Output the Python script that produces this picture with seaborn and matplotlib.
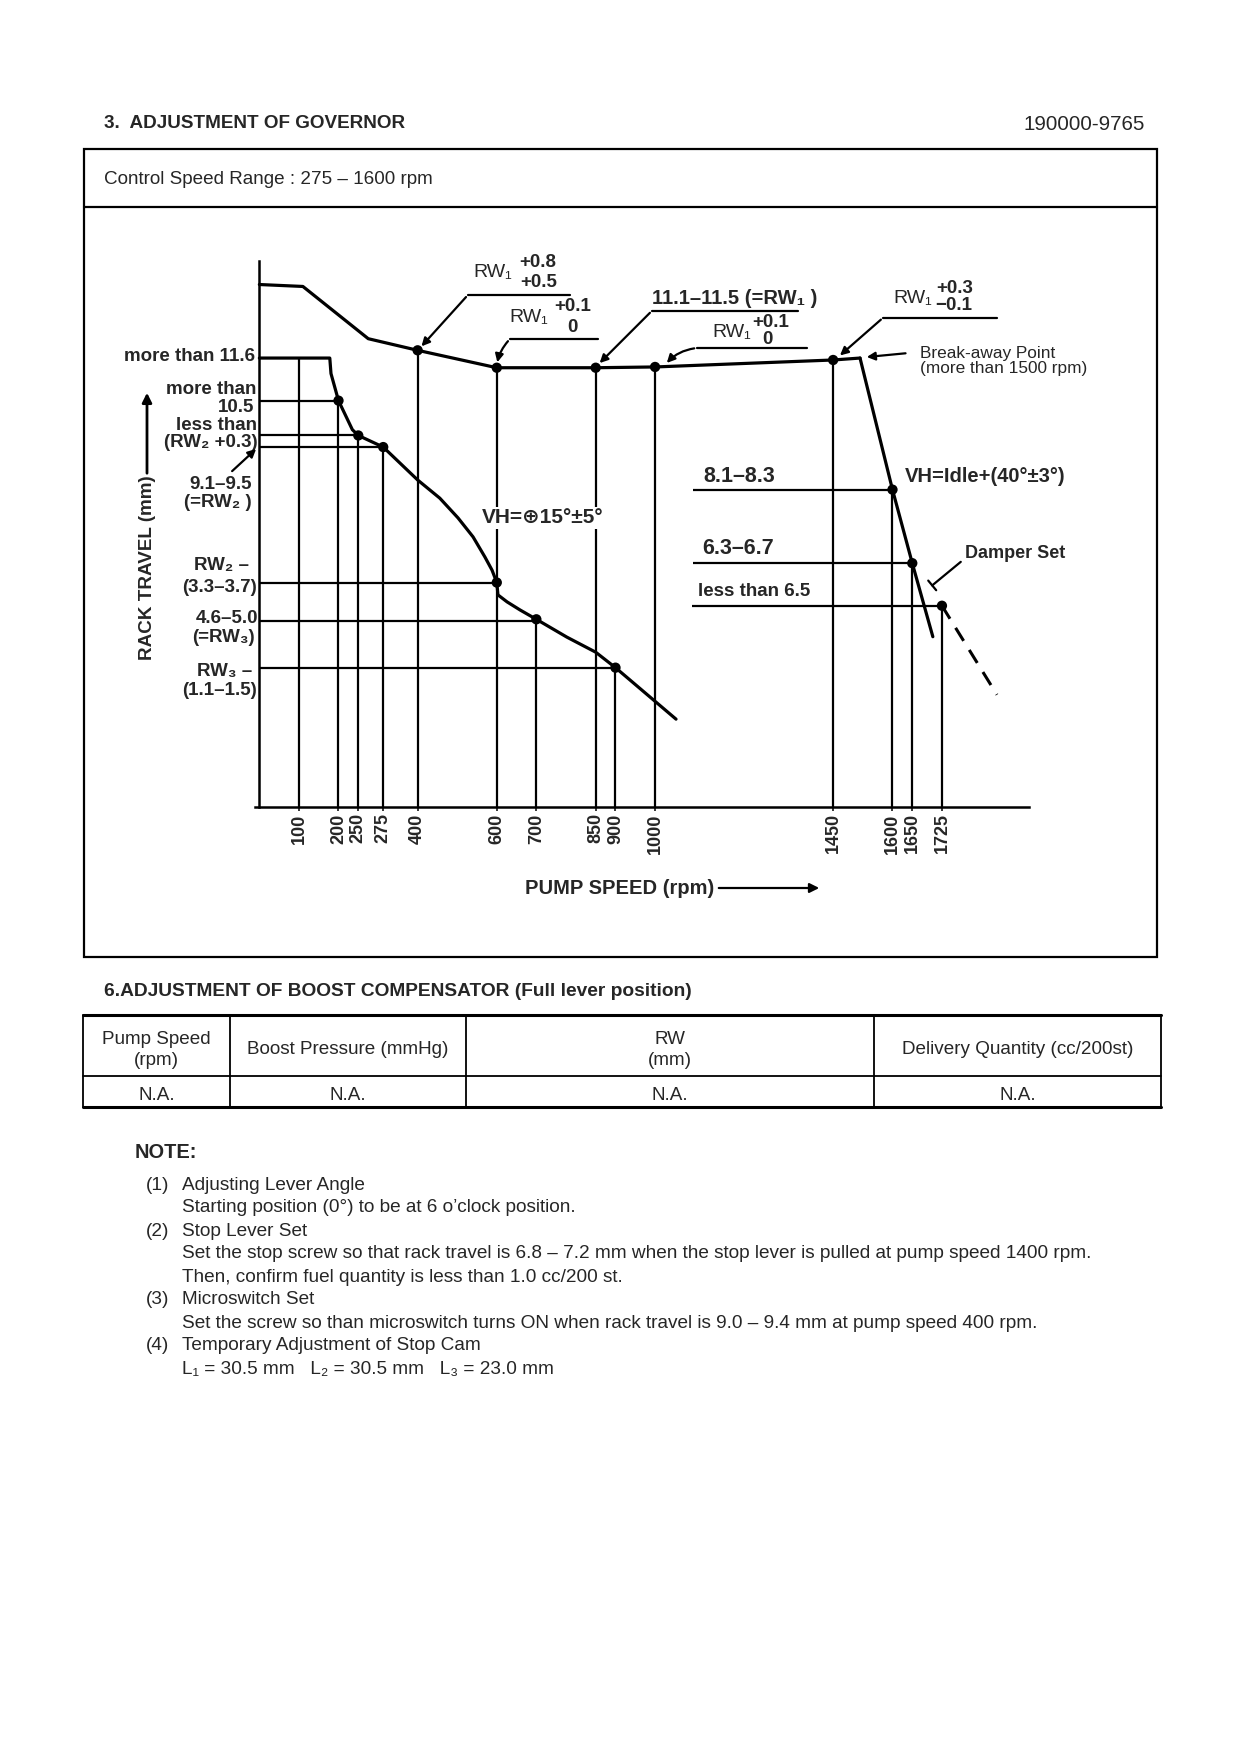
import numpy as np
import pandas as pd
import seaborn as sns
import matplotlib.pyplot as plt
from matplotlib.patches import Rectangle

# governor curve, pump speed (rpm) vs rack travel (mm)
full_speed = [0, 178, 181, 200, 235, 250, 275, 400, 456, 502, 540, 570, 588, 600, 603, 626, 659, 700,
              777, 850, 900, 1053]
full_rack = [11.6, 11.6, 11.2, 10.5, 9.75, 9.6, 9.3, 8.45, 7.98, 7.47, 6.98, 6.46, 6.12, 5.8, 5.48, 5.3,
             5.09, 4.85, 4.39, 4.0, 3.6, 2.27]

upper_speed = [0, 110, 260, 400, 600, 850, 1000, 1450, 1518]
upper_rack = [13.5, 13.45, 12.1, 11.8, 11.35, 11.35, 11.37, 11.55, 11.6]

drop_speed = [1518, 1600, 1650, 1702]
drop_rack = [11.6, 8.2, 6.3, 4.4]

idle_speed = [1725, 1864]
idle_rack = [5.2, 2.9]

dot_speed = [200, 250, 275, 400, 600, 600, 700, 850, 900, 1000, 1450, 1600, 1650, 1725]
dot_rack = [10.5, 9.6, 9.3, 11.8, 11.35, 5.8, 4.85, 11.35, 3.6, 11.37, 11.55, 8.2, 6.3, 5.2]

tick_speed = [100, 200, 250, 275, 400, 600, 700, 850, 900, 1000, 1450, 1600, 1650, 1725]
tick_top = [11.6, 10.5, 9.6, 9.3, 11.8, 11.35, 4.85, 11.35, 3.6, 11.37, 11.55, 8.2, 6.3, 5.2]

left_level = [10.5, 9.6, 9.3, 5.8, 4.8, 3.6]
left_end = [200, 250, 275, 600, 700, 900]

right_level = [8.2, 6.3, 5.2]
right_start = [1095, 1095, 1093]
right_end = [1600, 1650, 1725]

table_header = ["Pump Speed\n(rpm)", "Boost Pressure (mmHg)", "RW\n(mm)", "Delivery Quantity (cc/200st)"]
table_values = ["N.A.", "N.A.", "N.A.", "N.A."]

notes = [
    ("(1)", "Adjusting Lever Angle"),
    ("", "Starting position (0°) to be at 6 o’clock position."),
    ("(2)", "Stop Lever Set"),
    ("", "Set the stop screw so that rack travel is 6.8 – 7.2 mm when the stop lever is pulled at pump speed 1400 rpm."),
    ("", "Then, confirm fuel quantity is less than 1.0 cc/200 st."),
    ("(3)", "Microswitch Set"),
    ("", "Set the screw so than microswitch turns ON when rack travel is 9.0 – 9.4 mm at pump speed 400 rpm."),
    ("(4)", "Temporary Adjustment of Stop Cam"),
    ("", "L₁ = 30.5 mm   L₂ = 30.5 mm   L₃ = 23.0 mm"),
]

sns.set_style("white")
plt.rcParams['font.family'] = ['Liberation Sans', 'DejaVu Sans']

fig = plt.figure(figsize=(12.4, 17.54), dpi=100)

# page layer in pixel units for frames, headings, table and notes
page = fig.add_axes([0, 0, 1, 1])
page.set_xlim(0, 1240)
page.set_ylim(1754, 0)
page.axis('off')

page.text(104, 124, "3.  ADJUSTMENT OF GOVERNOR", fontsize=13.6, fontweight='bold', va='center')
page.text(1145, 124, "190000-9765", fontsize=14.8, ha='right', va='center')
page.add_patch(Rectangle((84, 149), 1073, 808, fill=False, lw=1.6, color='black'))
page.plot([84, 1157], [207, 207], color='black', lw=1.6)
page.text(104, 179, "Control Speed Range : 275 – 1600 rpm", fontsize=13.6, va='center')

# chart axes
ax = fig.add_axes([255.4 / 1240, 1 - 807 / 1754, 773.6 / 1240, 545.7 / 1754])
ax.patch.set_alpha(0)

lw_curve = 2.3
sns.lineplot(x=full_speed, y=full_rack, sort=False, estimator=None, color='black', lw=lw_curve, ax=ax)
sns.lineplot(x=upper_speed, y=upper_rack, sort=False, estimator=None, color='black', lw=lw_curve, ax=ax)
sns.lineplot(x=drop_speed, y=drop_rack, sort=False, estimator=None, color='black', lw=lw_curve, ax=ax)
ax.plot(idle_speed, idle_rack, color='black', lw=2.2, linestyle=(0, (5, 3.5)))
sns.scatterplot(x=dot_speed, y=dot_rack, color='black', s=55, edgecolor='none', zorder=5, ax=ax)

ax.vlines(tick_speed, 0, tick_top, color='black', lw=1.6)
ax.hlines(left_level, 0, left_end, color='black', lw=1.6)
ax.hlines(right_level, right_start, right_end, color='black', lw=1.6)

# drawing is stretched between 250 and 400 rpm
anchor_rpm = [-1000, 250, 275, 400, 5000]
anchor_drawn = [-1000, 250, 313, 400, 5000]
ax.set_xscale('function', functions=(lambda v: np.interp(v, anchor_rpm, anchor_drawn),
                                     lambda v: np.interp(v, anchor_drawn, anchor_rpm)))
ax.set_xlim(-10, 1945)
ax.set_ylim(0, 14.1)
ax.set_xlabel('')
ax.set_ylabel('')
for side in ['top', 'right']:
    ax.spines[side].set_visible(False)
ax.spines['left'].set_position(('data', 0))
ax.spines['bottom'].set_position(('data', 0))
for side in ['left', 'bottom']:
    ax.spines[side].set_linewidth(1.8)
    ax.spines[side].set_color('black')

ax.set_yticks([])
ax.set_xticks(tick_speed)
ax.tick_params(axis='x', length=3, width=1.3, pad=1.5, direction='out', bottom=True,
               labelrotation=90, labelsize=13)
ax.set_xticklabels([str(v) for v in tick_speed], rotation=90, fontsize=13, fontweight='bold')

# left level labels
left_text = [
    ("more than 11.6", -11, 11.63),
    ("more than", -7, 10.78),
    ("10.5", -13, 10.31),
    ("less than", -7, 9.87),
    ("(RW₂ +0.3)", -4, 9.41),
    ("9.1–9.5", -19, 8.32),
    ("(=RW₂ )", -19, 7.86),
    ("RW₂ –", -27, 6.25),
    ("(3.3–3.7)", -7, 5.66),
    ("4.6–5.0", -4, 4.88),
    ("(=RW₃)", -11, 4.37),
    ("RW₃ –", -19, 3.49),
    ("(1.1–1.5)", -7, 3.02),
]
for txt, x, y in left_text:
    ax.text(x, y, txt, ha='right', va='center', fontsize=13.5, fontweight='bold', clip_on=False)
ax.annotate('', xy=(-3, 9.3), xytext=(-74, 8.63), annotation_clip=False,
            arrowprops=dict(arrowstyle='-|>', color='black', lw=1.6, mutation_scale=12))

arrow = dict(arrowstyle='-|>', color='black', lw=1.6, mutation_scale=12)

# RW1 +0.8 / +0.5 at 400 rpm
ax.plot([527, 785], [13.23, 13.23], color='black', lw=1.6)
ax.annotate('', xy=(405, 11.85), xytext=(527, 13.23), arrowprops=arrow)
ax.text(591, 13.8, "RW₁", ha='center', va='center', fontsize=14)
ax.text(704, 14.06, "+0.8", ha='center', va='center', fontsize=13.5, fontweight='bold')
ax.text(706, 13.54, "+0.5", ha='center', va='center', fontsize=13.5, fontweight='bold')

# RW1 +0.1 / 0 at 600 rpm
ax.plot([633, 856], [12.09, 12.09], color='black', lw=1.6)
ax.annotate('', xy=(600, 11.42), xytext=(633, 12.09), arrowprops=dict(arrow, connectionstyle='arc3,rad=0.15'))
ax.text(681, 12.66, "RW₁", ha='center', va='center', fontsize=14)
ax.text(792, 12.92, "+0.1", ha='center', va='center', fontsize=13.5, fontweight='bold')
ax.text(790, 12.38, "0", ha='center', va='center', fontsize=13.5, fontweight='bold')

# 11.1-11.5 (=RW1) at 850 rpm
ax.plot([992, 1361], [12.82, 12.82], color='black', lw=1.6)
ax.annotate('', xy=(855, 11.42), xytext=(992, 12.82), arrowprops=arrow)
ax.text(1202, 13.15, "11.1–11.5 (=RW₁ )", ha='center', va='center', fontsize=14.5, fontweight='bold')

# RW1 +0.1 / 0 at 1000 rpm
ax.plot([1106, 1384], [11.86, 11.86], color='black', lw=1.6)
ax.annotate('', xy=(1025, 11.42), xytext=(1106, 11.86), arrowprops=dict(arrow, connectionstyle='arc3,rad=0.2'))
ax.text(1193, 12.27, "RW₁", ha='center', va='center', fontsize=14)
ax.text(1293, 12.53, "+0.1", ha='center', va='center', fontsize=13.5, fontweight='bold')
ax.text(1285, 12.07, "0", ha='center', va='center', fontsize=13.5, fontweight='bold')

# RW1 +0.3 / -0.1 at 1450 rpm
ax.plot([1576, 1864], [12.64, 12.64], color='black', lw=1.6)
ax.annotate('', xy=(1462, 11.62), xytext=(1576, 12.64), arrowprops=arrow)
ax.text(1650, 13.15, "RW₁", ha='center', va='center', fontsize=14)
ax.text(1757, 13.41, "+0.3", ha='center', va='center', fontsize=13.5, fontweight='bold')
ax.text(1754, 12.97, "−0.1", ha='center', va='center', fontsize=13.5, fontweight='bold')

# break-away point
ax.annotate('', xy=(1528, 11.62), xytext=(1640, 11.73), arrowprops=arrow)
ax.text(1669, 11.53, "Break-away Point\n(more than 1500 rpm)", ha='left', va='center',
        fontsize=12.4, linespacing=1.0)

ax.text(1631, 8.53, "VH=Idle+(40°±3°)", ha='left', va='center', fontsize=14.5, fontweight='bold')
ax.text(1783, 6.56, "Damper Set", ha='left', va='center', fontsize=13, fontweight='bold')
ax.annotate('', xy=(1695, 5.68), xytext=(1778, 6.38),
            arrowprops=dict(arrowstyle='-[, widthB=0.45, lengthB=0', color='black', lw=1.6))

ax.text(563, 7.47, "VH=⊕15°±5°", ha='left', va='center', fontsize=15, fontweight='bold', zorder=6,
        bbox=dict(facecolor='white', edgecolor='none', pad=1))
ax.text(1121, 8.53, "8.1–8.3", ha='left', va='center', fontsize=15.5, fontweight='bold')
ax.text(1118, 6.69, "6.3–6.7", ha='left', va='center', fontsize=15.5, fontweight='bold')
ax.text(1108, 5.56, "less than 6.5", ha='left', va='center', fontsize=13.5, fontweight='bold')

# axis titles
page.text(147, 568, "RACK TRAVEL (mm)", rotation=90, ha='center', va='center', fontsize=13.6, fontweight='bold')
page.annotate('', xy=(147, 390), xytext=(147, 476),
              arrowprops=dict(arrowstyle='-|>', color='black', lw=2, mutation_scale=14))
page.text(525, 888, "PUMP SPEED (rpm)", ha='left', va='center', fontsize=14.5, fontweight='bold')
page.annotate('', xy=(822, 888), xytext=(716, 888),
              arrowprops=dict(arrowstyle='-|>', color='black', lw=1.6, mutation_scale=14))

# boost compensator table
page.text(104, 991, "6.ADJUSTMENT OF BOOST COMPENSATOR (Full lever position)", fontsize=13.8,
          fontweight='bold', va='center')
col_edges = [83, 230, 466, 874, 1161]
page.plot([83, 1161], [1015, 1015], color='black', lw=2.2)
page.plot([83, 1161], [1076, 1076], color='black', lw=1.3)
page.plot([83, 1161], [1107, 1107], color='black', lw=2.2)
for x in col_edges:
    page.plot([x, x], [1015, 1107], color='black', lw=1.3)
for i, (head, val) in enumerate(zip(table_header, table_values)):
    cx = (col_edges[i] + col_edges[i + 1]) / 2
    page.text(cx, 1050, head, ha='center', va='center', fontsize=13.6, linespacing=1.3)
    page.text(cx, 1095, val, ha='center', va='center', fontsize=13.6)

# notes
page.text(135, 1153, "NOTE:", fontsize=14.4, fontweight='bold', va='center')
for i, (num, line) in enumerate(notes):
    y = 1185 + i * 23
    if num:
        page.text(146, y, num, fontsize=13.7, va='center')
    page.text(182, y, line, fontsize=13.7, va='center')

fig.savefig('out.png', dpi=100)
